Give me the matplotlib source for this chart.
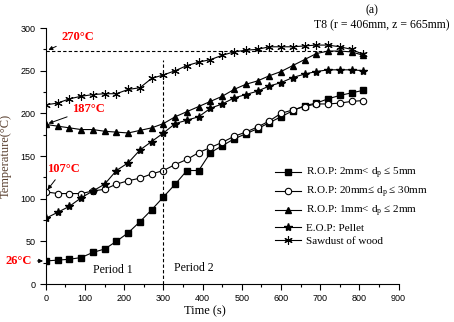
import numpy as np
import matplotlib
matplotlib.use('Agg')
import matplotlib.pyplot as plt
from matplotlib.ticker import MultipleLocator

plt.rcParams['font.family'] = ['Liberation Serif', 'DejaVu Serif']
plt.rcParams['mathtext.fontset'] = 'custom'
plt.rcParams['mathtext.rm'] = 'Liberation Serif'
plt.rcParams['mathtext.it'] = 'Liberation Serif:italic'

# time axis, one reading every 30 s
time_s = np.arange(0, 811, 30)

# R.O.P: 2mm < dp <= 5mm
rop_2_5 = [27, 28, 29, 31, 37, 41, 50, 60, 73, 87, 102, 117, 133, 133, 154, 162,
           170, 176, 182, 189, 196, 203, 209, 212, 217, 221, 224, 227]
# R.O.P: 20mm <= dp <= 30mm
rop_20_30 = [108, 106, 106, 106, 109, 111, 117, 121, 124, 129, 133, 140, 146, 154,
             160, 166, 173, 178, 184, 191, 200, 204, 208, 211, 211, 212, 214, 215]
# R.O.P: 1mm < dp <= 2mm
rop_1_2 = [187, 185, 183, 181, 181, 179, 178, 177, 180, 183, 188, 196, 202, 208,
           214, 220, 228, 234, 238, 244, 249, 256, 263, 270, 273, 273, 272, 268]
# E.O.P: Pellet
pellet = [77, 84, 91, 101, 109, 117, 133, 142, 157, 167, 177, 188, 192, 196,
          206, 211, 218, 222, 226, 232, 236, 242, 246, 249, 251, 251, 251, 250]
# Sawdust of wood
sawdust = [210, 212, 217, 220, 222, 223, 223, 228, 230, 241, 245, 250, 256, 260,
           263, 268, 272, 274, 275, 278, 278, 278, 279, 280, 280, 278, 275, 269]

labels = [r'R.O.P: 2mm< d$_\mathregular{p}$ ≤ 5mm',
          r'R.O.P: 20mm≤ d$_\mathregular{p}$ ≤ 30mm',
          r'R.O.P: 1mm< d$_\mathregular{p}$ ≤ 2mm',
          'E.O.P: Pellet',
          'Sawdust of wood']

fig = plt.figure(figsize=(4.54, 3.22), dpi=100)
ax = fig.add_axes([0.101, 0.118, 0.777, 0.795])

lw = 0.8
ax.plot(time_s, rop_2_5, '-s', color='black', lw=lw, ms=4.2, label=labels[0])
ax.plot(time_s, rop_20_30, '-o', color='black', lw=lw, ms=4.6, mfc='white',
        mew=0.8, label=labels[1])
ax.plot(time_s, rop_1_2, '-^', color='black', lw=lw, ms=5, label=labels[2])
ax.plot(time_s, pellet, '-*', color='black', lw=lw, ms=6, label=labels[3])
ax.plot(time_s, sawdust, '-', marker=(6, 2, 0), color='black', lw=lw, ms=6,
        mew=0.8, label=labels[4])

# reference dashed lines
ax.plot([0, 745], [273, 273], ls=(0, (3, 2)), color='black', lw=0.8)
ax.plot([300, 300], [0, 262], ls=(0, (3, 2)), color='black', lw=0.8)

ax.set_xlim(0, 900)
ax.set_ylim(0, 300)
ax.xaxis.set_major_locator(MultipleLocator(100))
ax.xaxis.set_minor_locator(MultipleLocator(50))
ax.yaxis.set_major_locator(MultipleLocator(50))
ax.yaxis.set_minor_locator(MultipleLocator(25))
ax.spines['top'].set_visible(False)
ax.spines['right'].set_visible(False)
ax.tick_params(which='major', direction='out', length=4, width=0.8, labelsize=6.5)
ax.tick_params(which='minor', direction='out', length=2.5, width=0.8)
for lab in ax.get_xticklabels() + ax.get_yticklabels():
    lab.set_family('Liberation Sans')

ax.set_xlabel('Time (s)', fontsize=9)
ax.xaxis.set_label_coords(0.45, -0.085)
ax.set_ylabel('Temperature(°C)', fontsize=9, color='#5a4030')
ax.yaxis.set_label_coords(-0.098, 0.5)

# red annotations
red = dict(color='red', fontsize=9, fontweight='bold')
arrow = dict(arrowstyle='-|>', color='black', lw=0.7, mutation_scale=6)
ax.annotate('270°C', xy=(0, 273), xytext=(40, 290), va='center', ha='left',
            arrowprops=arrow, **red)
ax.annotate('187°C', xy=(0, 187), xytext=(68, 205), va='center', ha='left',
            arrowprops=arrow, **red)
ax.annotate('107°C', xy=(0, 108), xytext=(4, 135), va='center', ha='left',
            arrowprops=arrow, **red)
ax.annotate('26°C', xy=(0, 27), xytext=(-36, 27), va='center', ha='right',
            arrowprops=arrow, annotation_clip=False, **red)

ax.text(170, 16, 'Period 1', fontsize=8.5, ha='center', va='center')
ax.text(378, 19, 'Period 2', fontsize=8.5, ha='center', va='center')

fig.text(0.819, 0.968, '(a)', fontsize=8.5, ha='center', va='center')
fig.text(0.99, 0.922, 'T8 (r = 406mm, z = 665mm)', fontsize=8.5, ha='right',
         va='center')

ax.legend(loc='upper left', bbox_to_anchor=(0.642, 0.47), frameon=False,
          fontsize=8, handlelength=2.4, handletextpad=0.4, labelspacing=0.35,
          borderpad=0.2, borderaxespad=0)

fig.savefig('out.png', dpi=100)
